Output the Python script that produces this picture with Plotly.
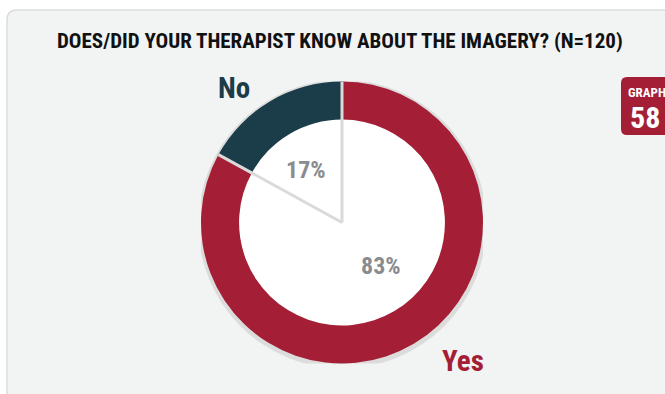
import math
import plotly.graph_objects as go

# Survey answers and their shares (%)
answers = ["No", "Yes"]
shares = [17, 83]
slice_colors = ["#1b3c49", "#a41f36"]
pct_labels = ["17%", "83%"]

title_text = "DOES/DID YOUR THERAPIST KNOW ABOUT THE IMAGERY? (N=120)"
badge_top = "GRAPH"
badge_num = "58"

W, H = 665, 394
FONT = "Roboto Condensed, Open Sans Condensed, sans-serif"

# Donut geometry in pixels
cx, cy, R = 342, 222.5, 141
hole = 0.73

x_dom = [(cx - R) / W, (cx + R) / W]
y_dom = [(H - cy - R) / H, (H - cy + R) / H]

total = sum(shares)

fig = go.Figure()

# First slice sits just left of 12 o'clock, the rest continue counterclockwise
fig.add_trace(go.Pie(
    labels=answers,
    values=shares,
    hole=hole,
    sort=False,
    direction="counterclockwise",
    rotation=-360 * shares[0] / total,
    marker=dict(colors=slice_colors, line=dict(width=0)),
    textinfo="none",
    hoverinfo="label+percent",
    showlegend=False,
    domain=dict(x=x_dom, y=y_dom),
))

# Invisible axes aligned with the pie so shapes can use unit-circle coordinates
fig.add_trace(go.Scatter(x=[0], y=[0], mode="markers",
                         marker=dict(opacity=0), hoverinfo="skip",
                         showlegend=False))


def px_path(d):
    """Convert a path written in pixel units (origin top-left) to paper coords."""
    out = []
    toks = d.split()
    i = 0
    while i < len(toks):
        t = toks[i]
        if t.isalpha():
            out.append(t)
            i += 1
        else:
            x = float(toks[i]) / W
            y = 1 - float(toks[i + 1]) / H
            out.append(f"{x:.5f},{y:.5f}")
            i += 2
    return " ".join(out)


shapes = []
# Background panel with rounded top-left corner
rad = 10
shapes.append(dict(
    type="path", xref="paper", yref="paper", layer="below",
    path=px_path(f"M 7 {H + 20} L 7 {10 + rad} Q 7 10 {7 + rad} 10 "
                 f"L {W + 20} 10 L {W + 20} {H + 20} Z"),
    fillcolor="#f2f3f3", line=dict(color="#dcdddd", width=1.5),
))

# Soft grey rim behind the ring
shapes.append(dict(type="circle", xref="x", yref="y", layer="below",
                   x0=-1.02, x1=1.025, y0=-1.035, y1=1.012,
                   fillcolor="#dcdcdc", line=dict(width=0)))
# White centre disk
shapes.append(dict(type="circle", xref="x", yref="y", layer="below",
                   x0=-hole - 0.01, x1=hole + 0.01, y0=-hole - 0.01, y1=hole + 0.01,
                   fillcolor="#ffffff", line=dict(width=0)))

# Slice separators from the centre, derived from the shares
acc = 0.0
for v in shares:
    ang = math.radians(90 + 360 * acc / total)
    shapes.append(dict(type="line", xref="x", yref="y", layer="above",
                       x0=0, y0=0, x1=1.0 * math.cos(ang), y1=1.0 * math.sin(ang),
                       line=dict(color="#dadada", width=3)))
    acc += v

# Badge at the right edge
bx0, by0, bx1, by1, br = 621, 77, 680, 135, 6
badge_path = (f"M {bx0 + br} {by0} L {bx1} {by0} L {bx1} {by1} L {bx0 + br} {by1} "
              f"Q {bx0} {by1} {bx0} {by1 - br} L {bx0} {by0 + br} Q {bx0} {by0} {bx0 + br} {by0} Z")
shapes.append(dict(type="path", xref="paper", yref="paper", layer="above",
                   path=px_path(badge_path), fillcolor="#a41f36", line=dict(width=0)))

annotations = [
    dict(text=title_text, xref="paper", yref="paper", x=340 / W, y=1 - 41 / H,
         showarrow=False, xanchor="center", yanchor="middle",
         font=dict(family=FONT, size=21, color="#111111", weight="bold")),
    dict(text=badge_top, xref="paper", yref="paper", x=626 / W, y=1 - 92 / H,
         showarrow=False, xanchor="left", yanchor="middle",
         font=dict(family=FONT, size=13, color="#ffffff", weight="bold")),
    dict(text=badge_num, xref="paper", yref="paper", x=645 / W, y=1 - 117 / H,
         showarrow=False, xanchor="center", yanchor="middle",
         font=dict(family=FONT, size=30, color="#ffffff", weight="bold")),
]

# Category names outside the ring and percentages inside the disk
name_pos = [(-0.766, 0.954), (0.858, -0.985)]
pct_pos = [(-0.255, 0.372), (0.277, -0.309)]
for name, col, (nx, ny), pct, (qx, qy) in zip(answers, slice_colors, name_pos, pct_labels, pct_pos):
    annotations.append(dict(text=name, xref="x", yref="y", x=nx, y=ny, showarrow=False,
                            xanchor="center", yanchor="middle",
                            font=dict(family=FONT, size=29, color=col, weight="bold")))
    annotations.append(dict(text=pct, xref="x", yref="y", x=qx, y=qy, showarrow=False,
                            xanchor="center", yanchor="middle",
                            font=dict(family=FONT, size=24, color="#8a8b8f", weight="bold")))

fig.update_layout(
    width=W, height=H,
    margin=dict(l=0, r=0, t=0, b=0),
    paper_bgcolor="#ffffff",
    plot_bgcolor="rgba(0,0,0,0)",
    xaxis=dict(domain=x_dom, range=[-1, 1], visible=False, fixedrange=True),
    yaxis=dict(domain=y_dom, range=[-1, 1], visible=False, fixedrange=True),
    shapes=shapes,
    annotations=annotations,
    showlegend=False,
)

fig.write_html("out.html")
